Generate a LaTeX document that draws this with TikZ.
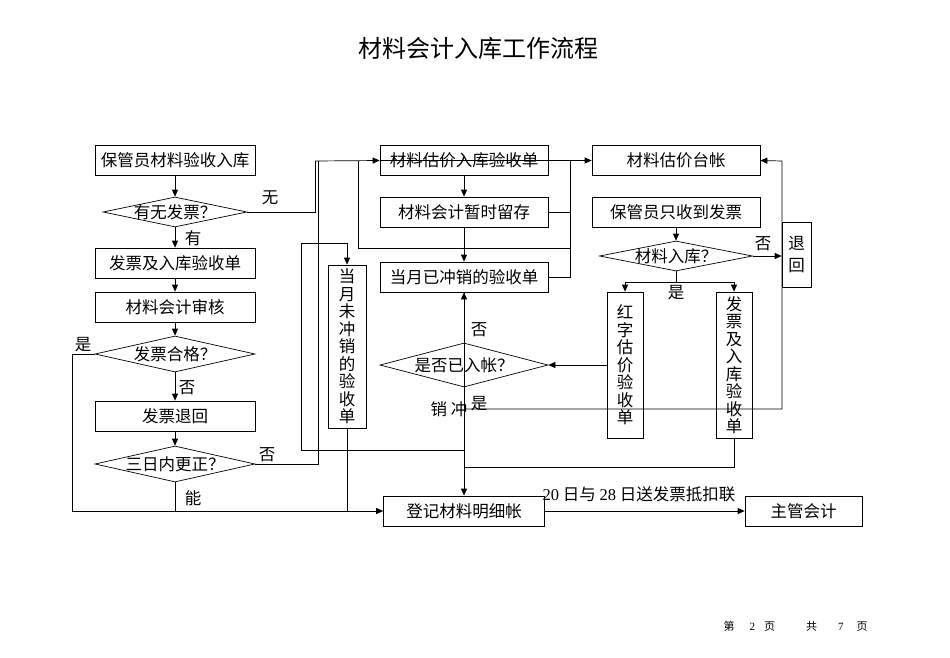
\documentclass[tikz,border=0pt]{standalone}
\usepackage{fontspec}
\setmainfont{Noto Sans CJK SC}
\newfontfamily\latin{Liberation Serif}
\usetikzlibrary{shapes.geometric,arrows.meta}

\begin{document}
\begin{tikzpicture}[x=1pt, y=-1pt, line width=0.7pt, >={Triangle[length=7pt,width=6pt]},
    boxStyle/.style={rectangle, draw, inner sep=0pt, minimum width=168pt, minimum height=30pt, font=\fontsize{16.5}{19}\selectfont},
    decStyle/.style={diamond, draw, inner sep=0pt, aspect=5, font=\fontsize{16.5}{19}\selectfont},
    vboxStyle/.style={rectangle, draw, inner sep=0pt, minimum width=37pt, align=center, font=\fontsize{16.5}{17.5}\selectfont},
    labStyle/.style={inner sep=0pt, font=\fontsize{16.5}{19}\selectfont}]
    \useasboundingbox (0,0) rectangle (950,658);

    \node[inner sep=0pt, font=\fontsize{24}{26}\selectfont] (title) at (478,48) {材料会计入库工作流程};

    % left column
    \node[boxStyle, minimum width=160pt] (keep_in)  at (175,160.5) {保管员材料验收入库};
    \node[decStyle, minimum width=144pt, minimum height=30pt] (dec_inv) at (175,212) {\makebox[0pt]{有无发票？}};
    \node[boxStyle, minimum width=160pt] (inv_rcpt) at (175,263) {发票及入库验收单};
    \node[boxStyle, minimum width=160pt] (acc_chk)  at (175,307) {材料会计审核};
    \node[decStyle, minimum width=160pt, minimum height=36pt] (dec_ok)  at (175,354) {\makebox[0pt]{发票合格？}};
    \node[boxStyle, minimum width=160pt] (inv_back) at (175,416) {发票退回};
    \node[decStyle, minimum width=160pt, minimum height=36pt] (dec_fix) at (175,464) {\makebox[0pt]{三日内更正？}};

    % middle column
    \node[boxStyle] (est_rcpt) at (464,160.5) {材料估价入库验收单};
    \node[boxStyle] (acc_hold) at (464,212) {材料会计暂时留存};
    \node[boxStyle] (rev_done) at (464,277) {当月已冲销的验收单};
    \node[decStyle, minimum width=168pt, minimum height=44pt] (dec_booked) at (464,365) {\makebox[0pt]{是否已入帐？}};
    \node[vboxStyle, minimum width=38pt, minimum height=163pt] (rev_not) at (347,346.5) {当\\月\\未\\冲\\销\\的\\验\\收\\单};
    \node[boxStyle, minimum width=161pt] (detail) at (464,511) {登记材料明细帐};
    \node[boxStyle, minimum width=117pt] (chief) at (803.5,511) {主管会计};

    % right column
    \node[boxStyle] (ledger_est) at (676,160.5) {材料估价台帐};
    \node[boxStyle] (keep_inv) at (676,212) {保管员只收到发票};
    \node[decStyle, minimum width=153pt, minimum height=30pt] (dec_in) at (676,256) {\makebox[0pt]{材料入库？}};
    \node[vboxStyle, minimum width=29pt, minimum height=65pt, font=\fontsize{16.5}{22}\selectfont] (ret) at (796.5,254.5) {退\\回};
    \node[vboxStyle, minimum width=36pt, minimum height=146pt] (red_rcpt) at (625,365) {红\\字\\估\\价\\验\\收\\单};
    \node[vboxStyle, minimum width=36pt, minimum height=146pt] (inv_rcpt_v) at (734,365) {发\\票\\及\\入\\库\\验\\收\\单};

    % bends
    \coordinate (j_no)   at (315,161);
    \coordinate (j_fix)  at (318,161);
    \coordinate (j_up)   at (358,161);
    \coordinate (j_rt)   at (570,248);
    \coordinate (j_rtop) at (570,161);
    \coordinate (j_mid)  at (464,450);
    \coordinate (j_loop) at (301,243);
    \coordinate (j_low)  at (464,467);
    \coordinate (j_yes)  at (464,409);
    \coordinate (j_rr)   at (782,161);
    \coordinate (j_br)   at (676,282);
    \coordinate (j_bl)   at (72,511);

    % left flow
    \draw[->] (keep_in.south) -- (dec_inv.north);
    \draw[->] (dec_inv.south) -- (inv_rcpt.north);
    \draw[->] (inv_rcpt.south) -- (acc_chk.north);
    \draw[->] (acc_chk.south) -- (dec_ok.north);
    \draw[->] (dec_ok.south) -- (inv_back.north);
    \draw[->] (inv_back.south) -- (dec_fix.north);
    \draw (dec_inv.east) -| (j_no);
    \draw (dec_fix.east) -| (j_fix);
    \draw[->] (j_no) -- (est_rcpt.west);
    \draw (dec_ok.west) -| (j_bl);
    \draw[->] (j_bl) -- (detail.west);
    \draw (dec_fix.south) -- (dec_fix.south |- j_bl);
    \draw (rev_not.south) -- (rev_not.south |- j_bl);

    % middle flow
    \draw[->] (est_rcpt.west) -- (ledger_est.west);
    \draw (j_up) |- (j_rt);
    \draw (rev_done.east) -| (j_rtop);
    \draw (acc_hold.east) -- (acc_hold.east -| j_rtop);
    \draw[->] (est_rcpt.south) -- (acc_hold.north);
    \draw[->] (acc_hold.south) -- (rev_done.north);
    \draw[->] (dec_booked.north) -- (rev_done.south);
    \draw (rev_done.south) -- (j_mid);
    \draw[->] (j_mid) -| (j_loop) -| (rev_not.north);
    \draw[->] (dec_booked.south) -- (detail.north);
    \draw[->] (detail.east) -- (chief.west);

    % right flow
    \draw[->] (j_yes) -| (j_rr) -- (ledger_est.east);
    \draw (inv_rcpt_v.south) |- (j_low);
    \draw[->] (keep_inv.south) -- (dec_in.north);
    \draw (dec_in.south) -- (j_br);
    \draw[->] (j_br) -| (red_rcpt.north);
    \draw[->] (j_br) -| (inv_rcpt_v.north);
    \draw[->] (dec_in.east) -- (ret.west |- dec_in.east);
    \draw[->] (red_rcpt.west) -- (dec_booked.east);

    % labels
    \node[labStyle] (lab_none) at (270,198) {无};
    \node[labStyle] (lab_has)  at (193,238) {有};
    \node[labStyle] (lab_ok)   at (83,345) {是};
    \node[labStyle] (lab_bad)  at (187,388) {否};
    \node[labStyle] (lab_late) at (267,455) {否};
    \node[labStyle] (lab_can)  at (193,498) {能};
    \node[labStyle] (lab_nb)   at (479,330) {否};
    \node[labStyle] (lab_yb)   at (479,404) {是};
    \node[labStyle] (lab_rev)  at (449,409) {销 冲};
    \node[labStyle] (lab_nin)  at (763,244) {否};
    \node[labStyle] (lab_yin)  at (676,293) {是};
    \node[labStyle] (lab_send) at (639,494) {{\latin 20} 日与 {\latin 28} 日送发票抵扣联};

    \node[inner sep=0pt, font=\fontsize{11}{13}\selectfont] (page) at (795.5,626)
        {第\hspace{15pt}{\latin 2}\hspace{9pt}页\hspace{31pt}共\hspace{21pt}{\latin 7}\hspace{13pt}页};
\end{tikzpicture}
\end{document}
